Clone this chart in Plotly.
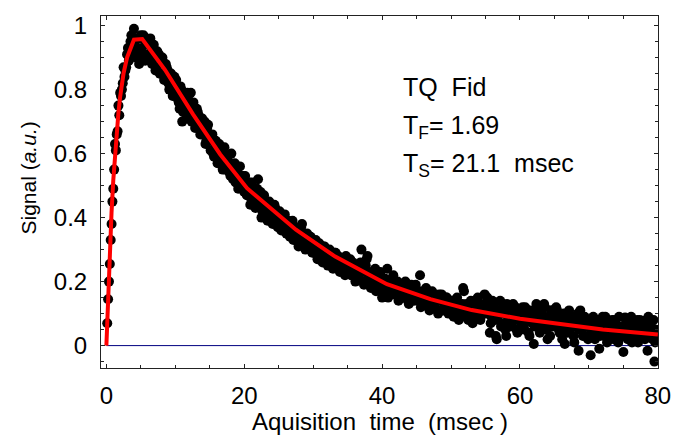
import plotly.graph_objects as go

# ---- data ----
sample_step_ms = 0.25
n_samples = 320
time_a = [round(sample_step_ms * (i + 1), 3) for i in range(n_samples)]
time_b = [round(sample_step_ms * i + 0.125, 3) for i in range(n_samples)]

sig_a_00_05 = [0.145, 0.255, 0.38, 0.49, 0.63, 0.66, 0.75, 0.79, 0.80, 0.87, 0.86, 0.91, 0.89, 0.95, 0.93, 0.99, 0.92, 0.96, 0.88, 0.97]
sig_a_05_10 = [0.96, 0.91, 0.95, 0.90, 0.94, 0.93, 0.90, 0.92, 0.87, 0.90, 0.85, 0.89, 0.88, 0.84, 0.87, 0.82, 0.85, 0.80, 0.83, 0.79]
sig_a_10_15 = [0.80, 0.76, 0.81, 0.70, 0.78, 0.75, 0.79, 0.73, 0.79, 0.72, 0.74, 0.70, 0.73, 0.68, 0.71, 0.66, 0.70, 0.64, 0.69, 0.65]
sig_a_15_20 = [0.64, 0.60, 0.63, 0.62, 0.58, 0.61, 0.57, 0.60, 0.55, 0.58, 0.57, 0.53, 0.56, 0.55, 0.51, 0.54, 0.50, 0.53, 0.52, 0.48]
sig_a_20_25 = [0.50, 0.47, 0.51, 0.46, 0.49, 0.45, 0.48, 0.52, 0.44, 0.40, 0.46, 0.43, 0.45, 0.41, 0.44, 0.42, 0.40, 0.43, 0.38, 0.41]
sig_a_25_30 = [0.40, 0.37, 0.39, 0.36, 0.38, 0.35, 0.37, 0.39, 0.34, 0.36, 0.33, 0.35, 0.37, 0.32, 0.34, 0.33, 0.31, 0.34, 0.32, 0.30]
sig_a_30_35 = [0.32, 0.29, 0.31, 0.30, 0.28, 0.31, 0.27, 0.30, 0.26, 0.29, 0.28, 0.25, 0.29, 0.27, 0.24, 0.27, 0.26, 0.23, 0.28, 0.25]
sig_a_35_40 = [0.25, 0.22, 0.26, 0.24, 0.21, 0.25, 0.23, 0.30, 0.20, 0.24, 0.27, 0.22, 0.19, 0.23, 0.21, 0.24, 0.18, 0.21, 0.23, 0.15]
sig_a_40_45 = [0.20, 0.18, 0.24, 0.19, 0.17, 0.21, 0.16, 0.19, 0.20, 0.15, 0.18, 0.19, 0.16, 0.18, 0.14, 0.17, 0.19, 0.15, 0.17, 0.16]
sig_a_45_50 = [0.16, 0.22, 0.14, 0.17, 0.15, 0.13, 0.16, 0.14, 0.17, 0.12, 0.15, 0.14, 0.16, 0.11, 0.14, 0.13, 0.15, 0.12, 0.14, 0.13]
sig_a_50_55 = [0.12, 0.10, 0.13, 0.11, 0.09, 0.12, 0.18, 0.10, 0.13, 0.08, 0.11, 0.12, 0.09, 0.11, 0.13, 0.10, 0.08, 0.12, 0.10, 0.11]
sig_a_55_60 = [0.15, 0.11, 0.07, 0.14, 0.12, 0.03, 0.09, 0.11, 0.06, 0.13, 0.10, 0.03, 0.08, 0.12, 0.07, 0.13, 0.09, 0.05, 0.11, 0.08]
sig_a_60_65 = [0.10, 0.06, 0.12, 0.08, 0.04, 0.11, 0.07, 0.005, 0.09, 0.06, 0.12, 0.08, 0.05, 0.13, 0.07, 0.02, 0.09, 0.11, 0.06, 0.08]
sig_a_65_70 = [0.12, 0.07, 0.04, 0.09, 0.06, 0.005, 0.08, 0.10, 0.05, 0.07, 0.03, 0.06, 0.09, -0.016, 0.11, 0.05, 0.07, 0.03, 0.08, 0.06]
sig_a_70_75 = [-0.03, 0.06, 0.08, 0.04, 0.07, -0.01, 0.05, 0.09, 0.03, 0.083, 0.06, 0.02, 0.07, 0.04, 0.08, 0.05, 0.01, 0.06, 0.03, -0.02]
sig_a_75_80 = [0.088, 0.05, 0.03, 0.07, 0.01, 0.06, 0.04, 0.08, 0.02, 0.05, 0.078, 0.03, 0.06, -0.016, 0.04, 0.07, 0.02, -0.05, 0.05, 0.03]

sig_b_00_05 = [0.07, 0.20, 0.33, 0.45, 0.55, 0.61, 0.67, 0.72, 0.78, 0.82, 0.84, 0.87, 0.93, 0.90, 0.97, 0.91, 0.94, 0.90, 0.96, 0.92]
sig_b_05_10 = [0.93, 0.97, 0.89, 0.95, 0.91, 0.96, 0.88, 0.94, 0.86, 0.92, 0.91, 0.85, 0.90, 0.83, 0.88, 0.86, 0.80, 0.85, 0.78, 0.84]
sig_b_10_15 = [0.83, 0.77, 0.74, 0.80, 0.73, 0.78, 0.71, 0.77, 0.75, 0.70, 0.76, 0.68, 0.74, 0.72, 0.66, 0.71, 0.69, 0.63, 0.68, 0.66]
sig_b_15_20 = [0.61, 0.66, 0.59, 0.64, 0.57, 0.63, 0.60, 0.55, 0.62, 0.56, 0.59, 0.54, 0.60, 0.52, 0.57, 0.55, 0.49, 0.56, 0.51, 0.53]
sig_b_20_25 = [0.53, 0.47, 0.50, 0.44, 0.51, 0.47, 0.43, 0.49, 0.46, 0.48, 0.42, 0.47, 0.44, 0.39, 0.45, 0.43, 0.38, 0.44, 0.41, 0.37]
sig_b_25_30 = [0.42, 0.36, 0.40, 0.41, 0.35, 0.39, 0.34, 0.38, 0.33, 0.37, 0.36, 0.31, 0.35, 0.38, 0.33, 0.30, 0.35, 0.31, 0.34, 0.29]
sig_b_30_35 = [0.29, 0.33, 0.27, 0.32, 0.30, 0.26, 0.31, 0.28, 0.25, 0.30, 0.27, 0.24, 0.29, 0.26, 0.28, 0.23, 0.27, 0.25, 0.22, 0.26]
sig_b_35_40 = [0.23, 0.27, 0.22, 0.25, 0.20, 0.24, 0.22, 0.26, 0.23, 0.19, 0.25, 0.28, 0.21, 0.18, 0.22, 0.20, 0.17, 0.22, 0.19, 0.21]
sig_b_40_45 = [0.17, 0.21, 0.19, 0.15, 0.20, 0.18, 0.22, 0.16, 0.18, 0.14, 0.19, 0.17, 0.15, 0.20, 0.16, 0.13, 0.18, 0.16, 0.14, 0.19]
sig_b_45_50 = [0.14, 0.17, 0.12, 0.16, 0.13, 0.18, 0.15, 0.11, 0.14, 0.16, 0.12, 0.15, 0.10, 0.14, 0.16, 0.11, 0.13, 0.15, 0.10, 0.12]
sig_b_50_55 = [0.14, 0.09, 0.12, 0.15, 0.08, 0.11, 0.13, 0.17, 0.09, 0.12, 0.10, 0.14, 0.07, 0.12, 0.10, 0.15, 0.09, 0.13, 0.11, 0.16]
sig_b_55_60 = [0.10, 0.13, 0.04, 0.09, 0.12, 0.08, 0.02, 0.10, 0.14, 0.07, 0.11, 0.05, 0.13, 0.09, 0.06, 0.11, 0.08, 0.12, 0.04, 0.10]
sig_b_60_65 = [0.07, 0.12, 0.05, 0.09, 0.11, 0.03, 0.08, 0.10, 0.06, 0.13, 0.07, 0.04, 0.10, 0.08, 0.12, 0.05, 0.09, 0.03, 0.11, 0.07]
sig_b_65_70 = [0.09, 0.11, 0.05, 0.08, 0.02, 0.10, 0.07, 0.04, 0.11, 0.06, 0.08, 0.01, 0.07, 0.10, 0.05, 0.08, 0.03, 0.09, 0.06, 0.02]
sig_b_70_75 = [0.07, 0.04, 0.09, 0.02, 0.06, 0.08, 0.03, 0.07, 0.05, 0.09, 0.01, 0.06, 0.04, 0.08, 0.02, 0.07, 0.05, 0.09, 0.03, 0.06]
sig_b_75_80 = [0.05, 0.08, 0.02, 0.06, 0.09, 0.03, 0.07, 0.04, 0.01, 0.08, 0.05, 0.07, 0.02, 0.06, 0.09, 0.03, 0.05, 0.08, 0.01, 0.04]

signal_a = (sig_a_00_05 + sig_a_05_10 + sig_a_10_15 + sig_a_15_20 + sig_a_20_25 + sig_a_25_30
            + sig_a_30_35 + sig_a_35_40 + sig_a_40_45 + sig_a_45_50 + sig_a_50_55 + sig_a_55_60
            + sig_a_60_65 + sig_a_65_70 + sig_a_70_75 + sig_a_75_80)
signal_b = (sig_b_00_05 + sig_b_05_10 + sig_b_10_15 + sig_b_15_20 + sig_b_20_25 + sig_b_25_30
            + sig_b_30_35 + sig_b_35_40 + sig_b_40_45 + sig_b_45_50 + sig_b_50_55 + sig_b_55_60
            + sig_b_60_65 + sig_b_65_70 + sig_b_70_75 + sig_b_75_80)

time_ms = time_b + time_a
signal = signal_b + signal_a

fit_t = [0, 0.25, 0.5, 0.75, 1.0, 1.25, 1.5, 1.75, 2.0, 2.5, 3.0, 3.5, 4.0, 5.2, 8.5,
         12.6, 16.5, 20.4, 27.5, 33.2, 40.7, 47, 53, 60, 66, 72, 80]
fit_v = [0, 0.162, 0.30, 0.417, 0.516, 0.60, 0.671, 0.729, 0.778, 0.852, 0.90, 0.932, 0.956, 0.958, 0.862,
         0.722, 0.598, 0.492, 0.362, 0.278, 0.192, 0.145, 0.111, 0.084, 0.066, 0.050, 0.035]

baseline_t = [0, 80]
baseline_v = [0, 0]

x_ticks = [0, 20, 40, 60, 80]
y_ticks = [0, 0.2, 0.4, 0.6, 0.8, 1]
y_tick_text = ["0", "0.2", "0.4", "0.6", "0.8", "1"]

FONT = "Liberation Sans, Arial, sans-serif"

fig = go.Figure()
fig.add_trace(go.Scatter(x=baseline_t, y=baseline_v, mode="lines",
                         line=dict(color="#000080", width=1), showlegend=False, hoverinfo="skip"))
fig.add_trace(go.Scatter(x=time_ms, y=signal, mode="markers",
                         marker=dict(color="black", size=10, line=dict(width=0)), showlegend=False))
fig.add_trace(go.Scatter(x=fit_t, y=fit_v, mode="lines",
                         line=dict(color="#ff0000", width=4), showlegend=False))

axis_common = dict(showline=True, linecolor="#222222", linewidth=1, mirror="allticks",
                   ticks="inside", ticklen=4, tickcolor="#222222", showgrid=False, zeroline=False,
                   tickfont=dict(family=FONT, size=24, color="black"))

fig.update_xaxes(range=[-0.78, 80.02], tickvals=x_ticks, ticklabelstandoff=6,
                 minor=dict(dtick=5, tick0=0, ticks="inside", ticklen=3, tickcolor="#222222", showgrid=False),
                 **axis_common)
fig.update_yaxes(range=[-0.07, 1.03], tickvals=y_ticks, ticktext=y_tick_text, ticklabelstandoff=8,
                 minor=dict(dtick=0.05, tick0=0, ticks="inside", ticklen=3, tickcolor="#222222", showgrid=False),
                 **axis_common)

ann_font = dict(family=FONT, size=25, color="black")
annotations = [
    dict(text="TQ  Fid", x=0.538, y=0.797, xref="paper", yref="paper", xanchor="left", yanchor="middle",
         showarrow=False, font=ann_font),
    dict(text="T<sub>F</sub>= 1.69", x=0.538, y=0.684, xref="paper", yref="paper", xanchor="left",
         yanchor="middle", showarrow=False, font=ann_font),
    dict(text="T<sub>S</sub>= 21.1  msec", x=0.538, y=0.576, xref="paper", yref="paper", xanchor="left",
         yanchor="middle", showarrow=False, font=ann_font),
    dict(text="Signal (<i>a.u.</i>)", x=-0.130, y=0.54, xref="paper", yref="paper", textangle=-90,
         xanchor="center", yanchor="middle", showarrow=False, font=dict(family=FONT, size=21, color="black")),
    dict(text="Aquisition  time  (msec )", x=0.5, y=-0.152, xref="paper", yref="paper",
         xanchor="center", yanchor="middle", showarrow=False, font=dict(family=FONT, size=24, color="black")),
]

fig.update_layout(width=683, height=442, margin=dict(l=101, r=14, t=14, b=74),
                  paper_bgcolor="white", plot_bgcolor="white", annotations=annotations,
                  font=dict(family=FONT, color="black"))

fig.write_html("out.html")
